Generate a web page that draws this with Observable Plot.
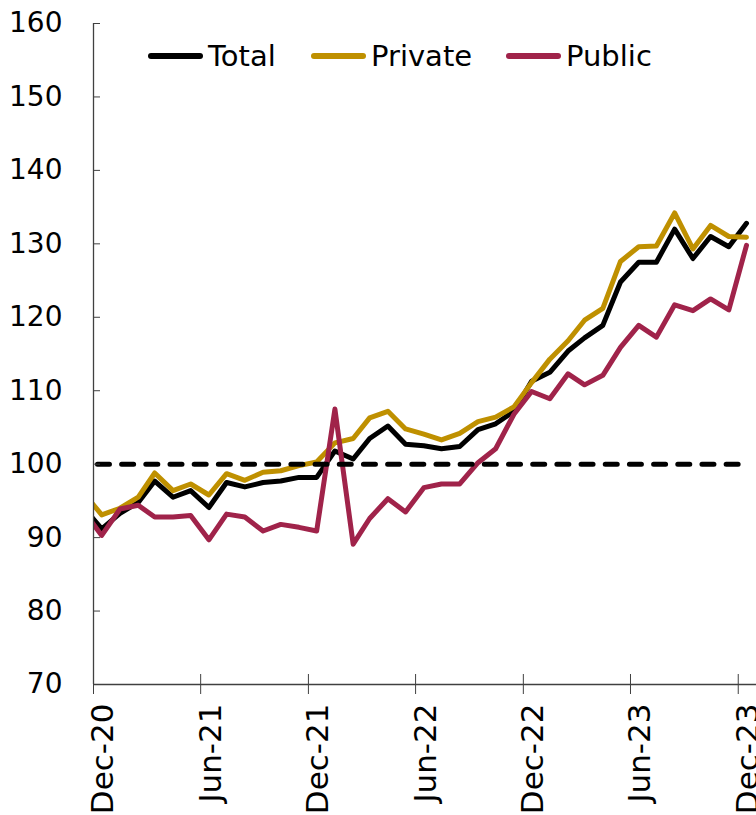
<!DOCTYPE html>
<html>
<head>
<meta charset="utf-8">
<script src="https://cdn.jsdelivr.net/npm/d3@7"></script>
<script src="https://cdn.jsdelivr.net/npm/@observablehq/plot@0.6"></script>
<style>
  html, body { margin: 0; padding: 0; background: #fff; }
  #wrap { position: relative; width: 756px; height: 815px; }
  #legend { position: absolute; left: 0; top: 0; width: 756px; height: 80px;
            font-family: "DejaVu Sans", sans-serif; font-size: 29px; color: #000; }
  .item { position: absolute; top: 39px; display: flex; align-items: center; gap: 5px; white-space: nowrap; }
  .sw { width: 55px; height: 6px; border-radius: 3px; }
</style>
</head>
<body>
<div id="wrap"><div id="legend"></div></div>
<script>
// Months (monthly observations, plotted mid-month); Nov-20 lies just left of the axis and is clipped
const months = ["Nov-20","Dec-20","Jan-21","Feb-21","Mar-21","Apr-21","May-21","Jun-21","Jul-21","Aug-21","Sep-21","Oct-21","Nov-21",
  "Dec-21","Jan-22","Feb-22","Mar-22","Apr-22","May-22","Jun-22","Jul-22","Aug-22","Sep-22","Oct-22","Nov-22",
  "Dec-22","Jan-23","Feb-23","Mar-23","Apr-23","May-23","Jun-23","Jul-23","Aug-23","Sep-23","Oct-23","Nov-23","Dec-23"];

const total = [94.0, 91.2, 93.3, 94.8, 97.7, 95.5, 96.4, 94.1, 97.5, 96.9, 97.5, 97.7, 98.2,
  98.2, 101.8, 100.7, 103.5, 105.2, 102.7, 102.5, 102.1, 102.4, 104.7, 105.5, 107.2,
  111.3, 112.5, 115.4, 117.2, 118.9, 124.8, 127.5, 127.5, 132.0, 128.0, 131.0, 129.6, 132.8];

const privateS = [96.0, 93.1, 94.0, 95.5, 98.8, 96.4, 97.3, 95.8, 98.7, 97.8, 98.9, 99.1, 99.8,
  100.3, 102.9, 103.5, 106.3, 107.2, 104.8, 104.1, 103.3, 104.2, 105.8, 106.4, 107.8,
  111.1, 114.3, 116.8, 119.6, 121.2, 127.6, 129.6, 129.7, 134.2, 129.3, 132.5, 131.0, 130.9];

const publicS = [93.5, 90.3, 93.9, 94.4, 92.8, 92.8, 93.0, 89.7, 93.2, 92.8, 90.9, 91.8, 91.4,
  90.9, 107.5, 89.1, 92.6, 95.3, 93.5, 96.8, 97.3, 97.3, 100.2, 102.1, 106.8,
  109.9, 108.9, 112.3, 110.8, 112.1, 115.9, 118.9, 117.3, 121.7, 120.9, 122.5, 121.0, 129.8];

const baselineValue = 100;
const seriesNames = ["Total", "Private", "Public"];
const seriesColors = ["#000000", "#BF9000", "#A0234A"];
const xTickLabels = ["Dec-20","Jun-21","Dec-21","Jun-22","Dec-22","Jun-23","Dec-23"];
const yTicks = [70, 80, 90, 100, 110, 120, 130, 140, 150, 160];
const xDomainLabels = ["Dec-20", "Jan-24"];
const yDomain = [70, 160];

const legendLeft = [148, 311, 506]; // layout only

const parse = d3.utcParse("%b-%y");
const dates = months.map(m => d3.utcDay.offset(parse(m), 14));
const seriesValues = [total, privateS, publicS];
const rows = seriesNames.map((name, s) => months.map((m, i) => ({date: dates[i], value: seriesValues[s][i], series: name})));
const baseRows = dates.map(d => ({date: d, value: baselineValue}));
const tickDates = xTickLabels.map(parse);
const xDomain = xDomainLabels.map(parse);

const chart = Plot.plot({
  width: 756, height: 815,
  marginLeft: 93, marginRight: 0, marginTop: 23, marginBottom: 131,
  style: {fontFamily: "'DejaVu Sans', sans-serif", fontSize: "28px", color: "#000", background: "#fff", overflow: "visible"},
  x: {type: "utc", domain: xDomain},
  y: {domain: yDomain},
  marks: [
    ...rows.map((r, s) => Plot.lineY(r, {x: "date", y: "value", stroke: seriesColors[s], strokeWidth: 5,
      strokeLinejoin: "round", strokeLinecap: "round", clip: true})),
    Plot.lineY(baseRows, {x: "date", y: "value", stroke: "#000", strokeWidth: 5, strokeDasharray: "12,12.18",
      strokeDashoffset: 10.8, strokeLinecap: "round", clip: true}),
    Plot.ruleX([xDomain[0]], {stroke: "#404040", strokeWidth: 1.3}),
    Plot.ruleY([yDomain[0]], {stroke: "#404040", strokeWidth: 1.3}),
    Plot.axisY({ticks: yTicks, tickSize: 7, dx: 7, tickPadding: 31, label: null, fontSize: 28, stroke: "#404040"}),
    Plot.axisX({ticks: tickDates, tickSize: 20, dy: -10, tickFormat: () => "", label: null, stroke: "#404040"}),
    Plot.axisX({ticks: tickDates, tickSize: 0, tickPadding: 19, tickRotate: -90, fontSize: 31, dx: 10,
      tickFormat: (d, i) => xTickLabels[i], label: null})
  ]
});
document.getElementById("wrap").prepend(chart);

const legend = document.getElementById("legend");
seriesNames.forEach((name, s) => {
  const item = document.createElement("div");
  item.className = "item";
  item.style.left = legendLeft[s] + "px";
  const sw = document.createElement("div");
  sw.className = "sw";
  sw.style.background = seriesColors[s];
  const label = document.createElement("span");
  label.textContent = name;
  item.append(sw, label);
  legend.append(item);
});
</script>
</body>
</html>
